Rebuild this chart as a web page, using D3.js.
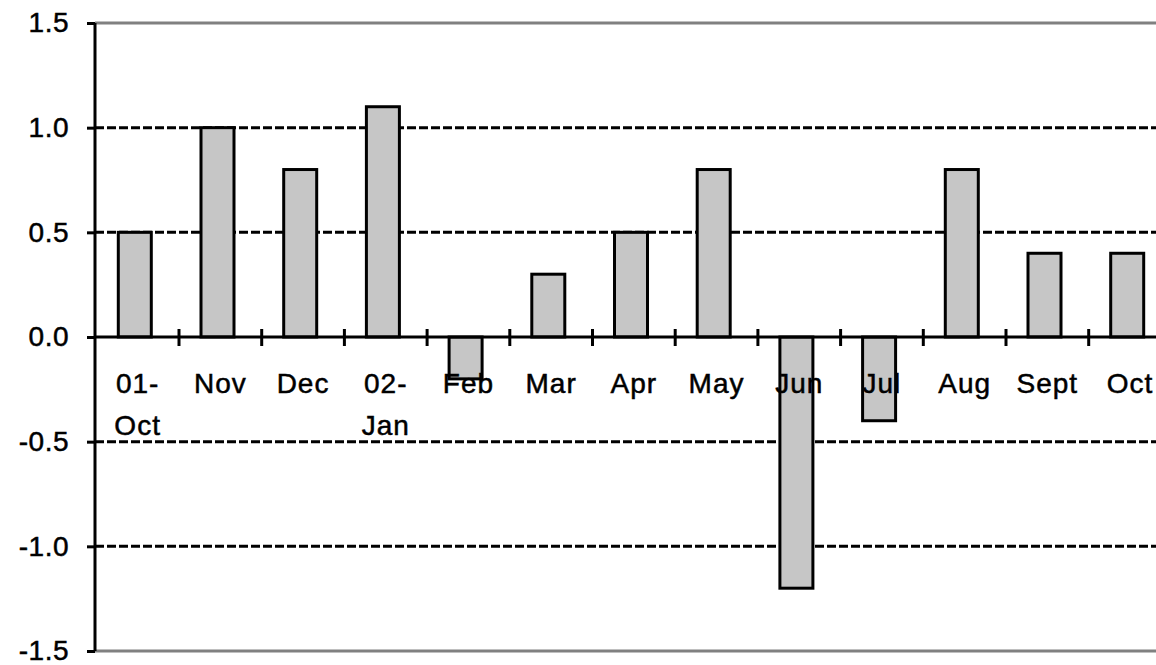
<!DOCTYPE html>
<html>
<head>
<meta charset="utf-8">
<script src="https://cdn.jsdelivr.net/npm/d3@7"></script>
<style>
html,body{margin:0;padding:0;background:#fff;}
svg{display:block;}
text{font-family:"Liberation Sans",Arial,sans-serif;fill:#000;}
</style>
</head>
<body>
<svg id="chart" width="1156" height="665"></svg>
<script>
const categories = ["01- Oct","Nov","Dec","02- Jan","Feb","Mar","Apr","May","Jun","Jul","Aug","Sept","Oct"];
const values = [0.5, 1.0, 0.8, 1.1, -0.2, 0.3, 0.5, 0.8, -1.2, -0.4, 0.8, 0.4, 0.4];
const yTicks = [-1.5, -1.0, -0.5, 0.0, 0.5, 1.0, 1.5];
const gridValues = [-1.0, -0.5, 0.5, 1.0];

(function() {
const svg = d3.select("#chart");
const mLeft = 95, mTop = 23, mBottom = 651;
const bandStart = 96.3, band = 82.7;
const x = d3.scaleBand().domain(d3.range(categories.length)).range([bandStart, bandStart + band * categories.length]).paddingInner(0).paddingOuter(0);
const y = d3.scaleLinear().domain([-1.5, 1.5]).range([mBottom, mTop]);
const mRight = 1156;

// dashed gridlines
svg.append("g").selectAll("line").data(gridValues).join("line")
  .attr("x1", mLeft).attr("x2", mRight)
  .attr("y1", d => y(d)).attr("y2", d => y(d))
  .attr("stroke", "#000").attr("stroke-width", 3).attr("stroke-dasharray", "9,3");

// top and bottom border (gray)
svg.append("g").selectAll("line").data([1.5, -1.5]).join("line")
  .attr("x1", mLeft).attr("x2", mRight)
  .attr("y1", d => y(d)).attr("y2", d => y(d))
  .attr("stroke", "#808080").attr("stroke-width", 3);

// bars
const barOff = 22, barW = 33;
svg.append("g").selectAll("rect").data(values).join("rect")
  .attr("x", (d, i) => x(i) + barOff)
  .attr("width", barW)
  .attr("y", d => y(Math.max(0, d)))
  .attr("height", d => Math.abs(y(d) - y(0)))
  .attr("fill", "#c6c6c6").attr("stroke", "#000").attr("stroke-width", 3);

// zero axis line
svg.append("line").attr("x1", mLeft).attr("x2", mRight)
  .attr("y1", y(0)).attr("y2", y(0)).attr("stroke", "#000").attr("stroke-width", 3);

// category boundary ticks
svg.append("g").selectAll("line").data(d3.range(1, categories.length)).join("line")
  .attr("x1", d => x(d)).attr("x2", d => x(d))
  .attr("y1", y(0) - 8).attr("y2", y(0) + 9)
  .attr("stroke", "#000").attr("stroke-width", 3);

// y axis
const fmt = d3.format(".1f");
const yAxis = d3.axisLeft(y).tickValues(yTicks).tickSize(8).tickPadding(18)
  .tickFormat(d => fmt(d).replace("\u2212", "-"));
const gy = svg.append("g").attr("transform", `translate(${mLeft},0)`).call(yAxis);
gy.select(".domain").attr("stroke", "#000").attr("stroke-width", 3).attr("d", `M0,${mTop}V${mBottom}`);
gy.selectAll(".tick line").attr("stroke", "#000").attr("stroke-width", 3);
gy.selectAll(".tick text").attr("font-size", 28).attr("font-family", "Liberation Sans, Arial, sans-serif")
  .attr("fill", "#000").attr("stroke", "#000").attr("stroke-width", 0.5).attr("letter-spacing", "0.5px");

// category labels
const lab = svg.append("g").selectAll("text").data(categories).join("text")
  .attr("y", 393)
  .attr("text-anchor", "middle")
  .attr("font-size", 28)
  .attr("stroke", "#000").attr("stroke-width", 0.5)
  .attr("letter-spacing", "1px");
lab.each(function(d, i) {
  const parts = d.split(" ");
  const t = d3.select(this);
  parts.forEach((p, k) => {
    t.append("tspan").attr("x", x(i) + x.bandwidth() / 2).attr("dy", k === 0 ? 0 : 42).text(p);
  });
});
})();
</script>
</body>
</html>
